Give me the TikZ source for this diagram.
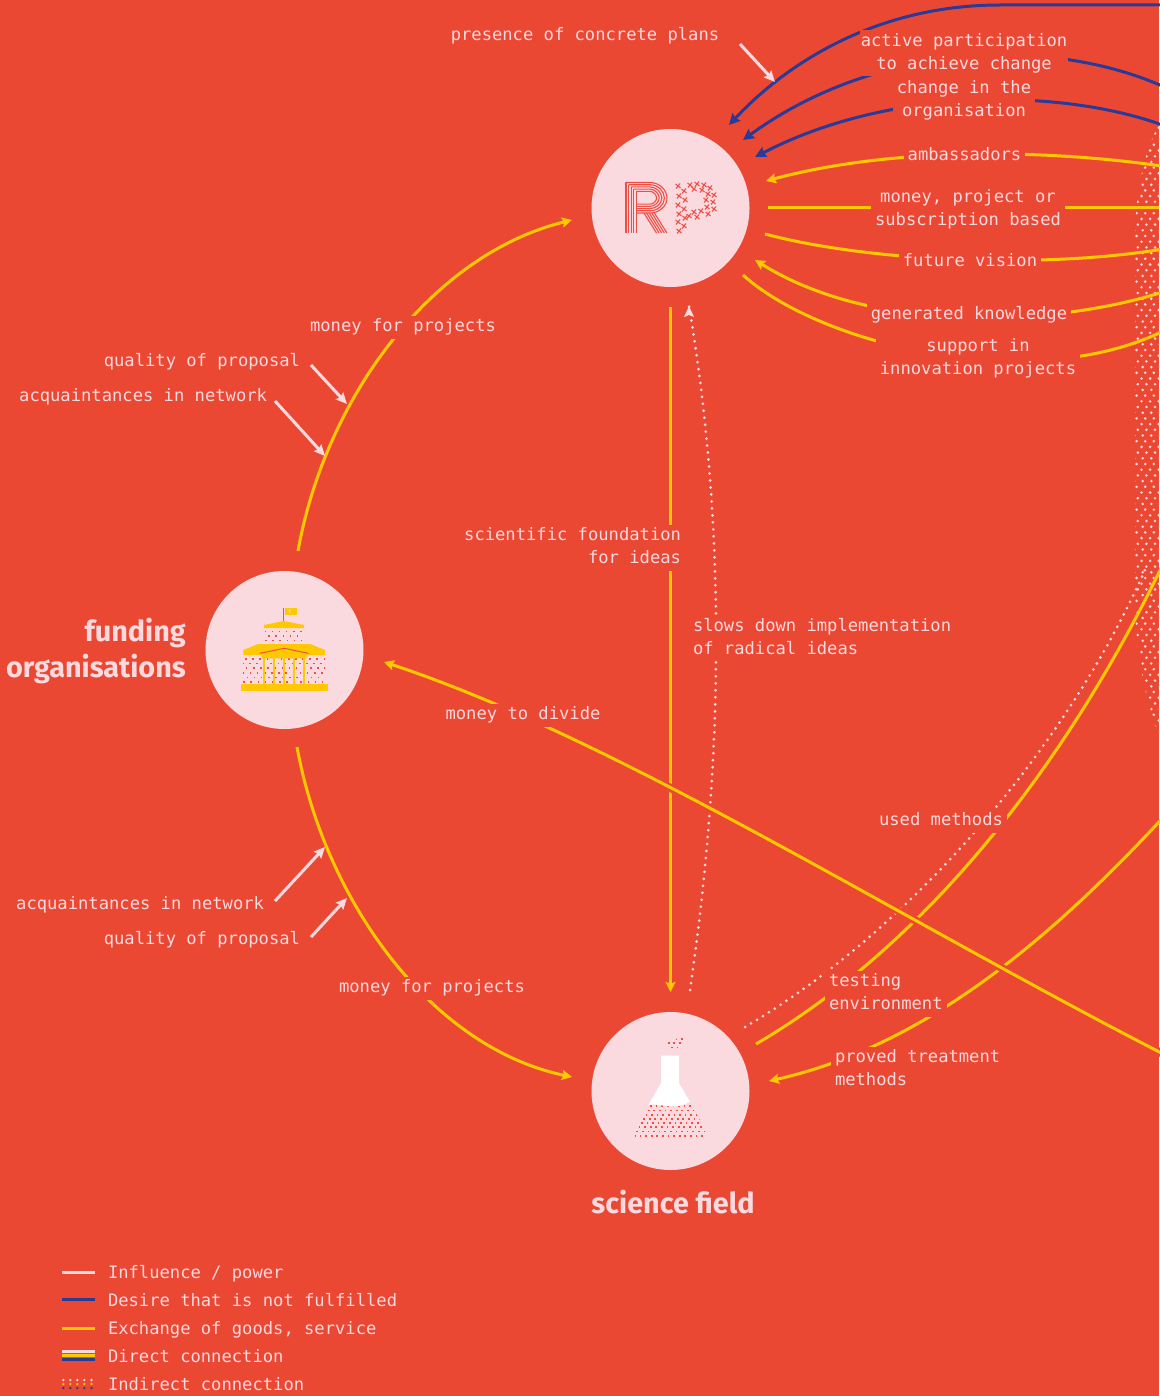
\documentclass[tikz,border=0pt]{standalone}
\usepackage{fontspec}
\setmonofont{DejaVu Sans Mono}
\setsansfont{Fira Sans}
\usetikzlibrary{arrows.meta}
\definecolor{bgred}{HTML}{EB4833}
\definecolor{pale}{HTML}{FAD9DF}
\definecolor{yel}{HTML}{FFC800}
\definecolor{blu}{HTML}{2A3A96}
\definecolor{dotred}{HTML}{EE4F45}
\pgfdeclarelayer{bgl}\pgfdeclarelayer{lines}\pgfsetlayers{bgl,lines,main}
\newcommand\ls{\strut}
\newcommand\stip[5]{% xmin xmax ymin ymax spacing
  \foreach \r in {0,...,40}{\foreach \c in {0,...,32}{
    \fill[dotred] ({#1-8+\c*#5*1.55+mod(\r,2)*#5*0.78+\r*0.35-3},{#3-2+\r*#5}) rectangle +(1.6,1.6);}}}
\tikzset{
  x=1pt,y=-1pt,
  lbl/.style={font=\ttfamily\fontsize{17.15}{23}\selectfont,text=pale,fill=bgred,inner xsep=4pt,inner ysep=0pt,outer sep=0pt,yshift=-2pt},
  plain/.style={lbl,fill=none,inner xsep=0pt},
  head/.style={font=\sffamily\bfseries\fontsize{28.8}{36}\selectfont,text=pale,inner sep=0pt,align=right},
  disc/.style={circle,fill=pale,minimum size=158pt,inner sep=0pt,outer sep=0pt},
  yline/.style={draw=yel,line width=3pt},
  yarrow/.style={yline,-{Stealth[length=10pt,width=10pt,inset=1.5pt]}},
  barrow/.style={draw=blu,line width=3pt,-{Stealth[length=11pt,width=11pt,inset=1.5pt]}},
  parrow/.style={draw=pale,line width=3pt,-{Stealth[length=11pt,width=10pt,inset=1.5pt]}},
  dotline/.style={draw=pale,line width=3pt,line cap=round,dash pattern=on 0pt off 7pt},
  halo/.style={preaction={draw=bgred,line width=8pt,-}},
}
\begin{document}
\begin{tikzpicture}
\useasboundingbox (0,0) rectangle (1159,1396);
\begin{pgfonlayer}{bgl}
\fill[bgred] (0,0) rectangle (1159,1396);
\end{pgfonlayer}

% discs
\node[disc] (rp) at (670.5,208) {};
\node[disc] (fund) at (284.5,650) {};
\node[disc] (sci) at (670.5,1091) {};

% RP logo
\foreach \d in {0,2.6,5.2,7.8,10.4}{
  \draw[dotred,line width=1.1pt] ({626+\d},233) -- ({626+\d},{182.5+\d*.85});
  \draw[dotred,line width=1.1pt] ({626+\d},{182.5+\d*.85}) -- (650,{182.5+\d*.85})
    .. controls ({650+.55*(17-\d)},{182.5+\d*.85}) and ({667-\d},{190+.5*\d}) .. ({667-\d},198)
    .. controls ({667-\d},{206-.5*\d}) and ({650+.55*(17-\d)},{213-\d*.85}) .. (650,{213-\d*.85}) -- (636,{213-\d*.85});
  \draw[dotred,line width=1.1pt] ({644+\d},213) -- ({656.5+\d},233);
}
\foreach \px/\py in {678/186,684/191,679/196,685/200,678/205,684/209,679/214,685/218,678/222,684/226,679/231,
  690/185,697/184,704/185,710/188,694/189,702/190,708/194,714/195,706/200,713/202,707/207,714/209,701/211,708/214,694/212,689/216,697/217}{
  \draw[dotred,line width=1.1pt] (\px-2.5,\py-2) -- (\px+2.5,\py+2) (\px-2,\py+2.5) -- (\px+2,\py-2.5);
}

% funding icon
\begin{scope}
\clip (265,628) rectangle (303,643) (243,655) rectangle (325,684);
\stip{243}{325}{628}{684}{4.6}
\end{scope}
\draw[dotred,line width=1pt] (283.7,608) -- (283.7,622);
\fill[yel] (285,608) rectangle (297,615);
\node[inner sep=0pt,font=\sffamily\fontsize{6}{6}\selectfont,text=pale] (euro) at (290,611.5) {€};
\fill[yel] (264,625) -- (284,621) -- (304,625) -- (304,628) -- (264,628) -- cycle;
\fill[yel] (243.3,650) -- (258.3,644) -- (310,644) -- (325,650) -- (325,655) -- (306.7,655) -- (306.7,658.3) -- (261.7,658.3) -- (261.7,655) -- (243.3,655) -- cycle;
\draw[dotred,line width=1pt] (260,653.3) -- (284.3,648.3) -- (308.3,653.3);
\foreach \cx in {264,274,284,294,304}{\fill[yel] (\cx-.9,658) rectangle (\cx+.9,684);}
\fill[yel] (241,684) rectangle (327.7,691);

% flask icon
\begin{scope}
\clip (648.3,1105) .. controls (660,1102) and (672,1112) .. (690,1101.7) -- (706.7,1133) .. controls (708,1137) and (705,1138) .. (703,1138) -- (638,1138) .. controls (635,1138) and (634,1135) .. (635,1133) -- cycle
 (668,1042) -- (684,1036) -- (686,1041) -- (674,1051) -- (668,1047) -- cycle;
\foreach \r in {0,...,26}{\foreach \c in {0,...,16}{
  \fill[dotred] ({628+\c*5.6+mod(\r,2)*2.8+\r*0.5-6},{1034+\r*4.2}) rectangle +(1.7,1.7);}}
\end{scope}
\fill[white] (661,1055.7) -- (679,1055.7) -- (679,1083) -- (690,1101.7) .. controls (672,1112) and (660,1102) .. (648.3,1105) -- (661,1083) -- cycle;

% headings
\node[head,anchor=east] (hfund) at (186,651.5) {funding\\organisations};
\node[head] (hsci) at (673,1202) {science field};

% labels
\node[lbl] (lpres) at (585,34) {\ls presence of concrete plans};
\node[lbl,align=center,inner xsep=1pt] (lact) at (964,51.5) {\ls active participation\\\ls to achieve change};
\node[lbl,align=center] (lchg) at (964,98.5) {\ls change in the\\\ls organisation};
\node[lbl] (lamb) at (964.5,153.5) {\ls ambassadors};
\node[lbl,align=center] (lmon) at (968,207.5) {\ls money, project or\\\ls subscription based};
\node[lbl] (lfut) at (970,260) {\ls future vision};
\node[lbl] (lgen) at (969,313) {\ls generated knowledge};
\node[lbl,align=center] (lsup) at (978,356.5) {\ls support in\\\ls innovation projects};
\node[lbl] (lmp1) at (403,325) {\ls money for projects};
\node[lbl,anchor=east] (lq1) at (304,360) {\ls quality of proposal};
\node[lbl,anchor=east] (lac1) at (271,395) {\ls acquaintances in network};
\node[lbl,align=right,anchor=east] (lsf) at (685,545.5) {\ls scientific foundation\\\ls for ideas};
\node[lbl,align=left,anchor=west] (lslow) at (689,636) {\ls slows down implementation\\\ls of radical ideas};
\node[lbl] (ldiv) at (523,713) {\ls money to divide};
\node[lbl] (lused) at (941,819) {\ls used methods};
\node[lbl,anchor=east] (lac2) at (268,903) {\ls acquaintances in network};
\node[lbl,anchor=east] (lq2) at (304,938) {\ls quality of proposal};
\node[lbl] (lmp2) at (432,986) {\ls money for projects};
\node[lbl,align=left,anchor=west] (ltest) at (825,991.5) {\ls testing\\\ls environment};
\node[lbl,align=left,anchor=west] (lprov) at (831,1067.5) {\ls proved treatment\\\ls methods};

% free ends
\coordinate (fOut) at (298,551); \coordinate (rpIn) at (572,220);
\coordinate (fOut2) at (297,747); \coordinate (sIn) at (572,1077);
\coordinate (vTop) at (670.5,307); \coordinate (vBot) at (670.5,992);
\coordinate (dBot) at (690,990); \coordinate (dTop) at (689,306);
\coordinate (divR) at (1175,1060); \coordinate (fIn) at (384,662);
\coordinate (uS) at (745,1027); \coordinate (uR) at (1145,570);
\coordinate (tS) at (756,1044); \coordinate (tR) at (1165,560);
\coordinate (pR) at (1170,810); \coordinate (sIn2) at (769,1081);
\coordinate (b1R) at (1165,5); \coordinate (b1M) at (1000,5); \coordinate (b1A) at (729,125);
\coordinate (b2R) at (1175,92); \coordinate (b2A) at (743,140);
\coordinate (b3R) at (1175,130); \coordinate (b3A) at (755,157);
\coordinate (aR) at (1175,168); \coordinate (aA) at (766,181);
\coordinate (mL) at (768,208); \coordinate (mR) at (1159,208);
\coordinate (fvL) at (765,234); \coordinate (fvR) at (1175,247);
\coordinate (gR) at (1175,288); \coordinate (gA) at (755,260);
\coordinate (sL) at (743,275); \coordinate (sR) at (1175,325);
\coordinate (pa) at (740,44); \coordinate (pb) at (775,82);
\coordinate (q1a) at (311,365); \coordinate (q1b) at (347,404);
\coordinate (c1a) at (275,401); \coordinate (c1b) at (325,456);
\coordinate (c2a) at (275,901); \coordinate (c2b) at (325,847);
\coordinate (q2a) at (311,937); \coordinate (q2b) at (347,898);

\begin{pgfonlayer}{lines}
% stippled band
\begin{scope}
\clip (1160,122) .. controls (1145,150) and (1135,190) .. (1135,240) -- (1135,600) .. controls (1135,650) and (1145,700) .. (1160,738) -- cycle;
\foreach \r in {0,...,110}{\foreach \c in {0,...,4}{
  \fill[pale] ({1128+\c*8.6+mod(\r,2)*4.3+mod(\r,4)*0.6},{122+\r*5.7}) circle (1.4);}}
\end{scope}

\draw[yarrow] (fOut) .. controls (325,400) and (430,255) .. (rpIn);
\draw[yarrow] (fOut2) .. controls (325,900) and (430,1047) .. (sIn);
\draw[yarrow] (vTop) -- (vBot);
\draw[dotline] (dBot) .. controls (725,750) and (725,520) .. (dTop);
\fill[pale] (dTop) -- ++(-5,11) -- ++(5,-2) -- ++(5,2) -- cycle;
\draw[dotline] (uS) .. controls (910,930) and (1065,750) .. (uR);
\draw[yline] (tS) .. controls (900,960) and (1050,800) .. (tR);
\draw[yarrow] (pR) .. controls (1060,930) and (930,1045) .. (sIn2);
\draw[yarrow,halo] (divR) .. controls (900,920) and (620,740) .. (fIn);

\draw[barrow] (b1R) -- (b1M) .. controls (880,5) and (790,60) .. (b1A);
\draw[barrow] (b2R) .. controls (1060,35) and (880,40) .. (b2A);
\draw[barrow] (b3R) .. controls (1080,90) and (900,82) .. (b3A);
\draw[yarrow] (aR) .. controls (1060,150) and (900,145) .. (aA);
\draw[yline] (mL) -- (mR);
\draw[yline] (fvL) .. controls (870,262) and (1050,270) .. (fvR);
\draw[yarrow] (gR) .. controls (1070,325) and (880,338) .. (gA);
\draw[yline] (sL) .. controls (820,345) and (1040,400) .. (sR);

\draw[parrow] (pa) -- (pb);
\draw[parrow] (q1a) -- (q1b);
\draw[parrow] (c1a) -- (c1b);
\draw[parrow] (c2a) -- (c2b);
\draw[parrow] (q2a) -- (q2b);
\end{pgfonlayer}

% legend
\draw[draw=pale,line width=2.6pt] (62,1272.3) -- (95,1272.3);
\draw[draw=blu,line width=2.6pt] (62,1299.3) -- (95,1299.3);
\draw[draw=yel,line width=2.6pt] (62,1328.3) -- (95,1328.3);
\draw[draw=pale,line width=2.6pt] (62,1351.7) -- (95,1351.7);
\draw[draw=yel,line width=2.6pt] (62,1355.5) -- (95,1355.5);
\draw[draw=blu,line width=2.6pt] (62,1359.3) -- (95,1359.3);
\foreach \lx in {63.3,70.3,77.3,84.3,91.5}{
  \fill[pale] (\lx,1380) circle (1.3);
  \fill[yel] (\lx,1384) circle (1.3);
  \fill[blu] (\lx,1388) circle (1.3);
}
\node[plain,anchor=west] (k1) at (108,1272) {\ls Influence / power};
\node[plain,anchor=west] (k2) at (108,1299.5) {\ls Desire that is not fulfilled};
\node[plain,anchor=west] (k3) at (108,1328) {\ls Exchange of goods, service};
\node[plain,anchor=west] (k4) at (108,1356) {\ls Direct connection};
\node[plain,anchor=west] (k5) at (108,1384) {\ls Indirect connection};
\end{tikzpicture}
\end{document}
